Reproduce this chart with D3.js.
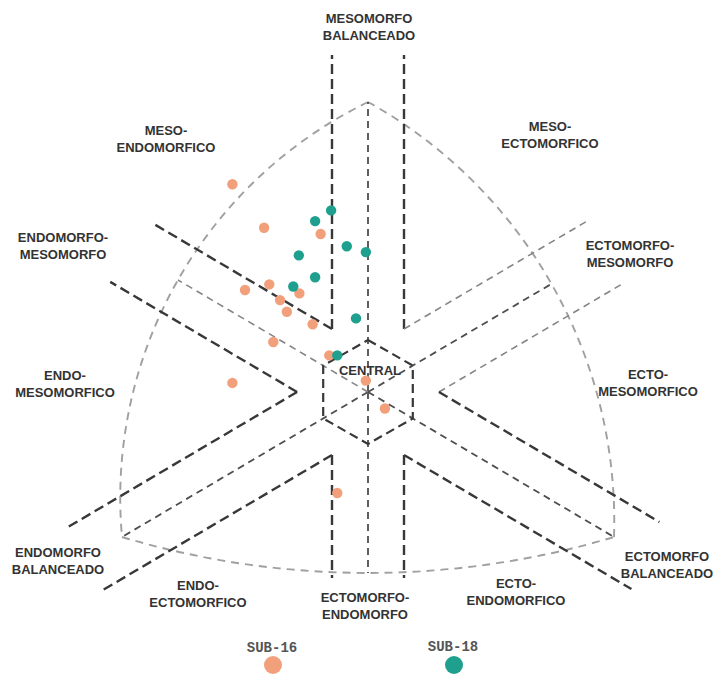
<!DOCTYPE html>
<html><head><meta charset="utf-8">
<script src="https://cdn.jsdelivr.net/npm/d3@7"></script>
<style>body{margin:0;background:#fff}</style>
</head><body><svg id="c" width="714" height="677"></svg>
<script>
// ---------- DATA (somatochart coordinates: X = ecto - endo, Y = 2*meso - (endo+ecto)) ----------
const groups = ["SUB-16", "SUB-18"];
const sub16X = [-4.41, -3.38, -1.54, -3.21, -4.00, -2.23, -2.86, -2.64, -1.80, -3.08, -1.26, -4.41, -0.07, 0.55, -1.00];
const sub16Y = [11.46, 9.06, 8.72, 5.94, 5.63, 5.44, 5.07, 4.43, 3.74, 2.76, 2.02, 0.50, 0.63, -0.91, -5.57];
const sub18X = [-1.20, -1.72, -0.69, -0.07, -2.25, -1.72, -2.43, -0.39, -1.00];
const sub18Y = [10.02, 9.43, 8.04, 7.72, 7.54, 6.33, 5.82, 4.06, 2.02];
const regionNames = [
  ["MESOMORFO", "BALANCEADO"], ["MESO-", "ENDOMORFICO"], ["MESO-", "ECTOMORFICO"],
  ["ENDOMORFO-", "MESOMORFO"], ["ECTOMORFO-", "MESOMORFO"], ["ENDO-", "MESOMORFICO"],
  ["ECTO-", "MESOMORFICO"], ["ENDOMORFO", "BALANCEADO"], ["ECTOMORFO", "BALANCEADO"],
  ["ENDO-", "ECTOMORFICO"], ["ECTOMORFO-", "ENDOMORFO"], ["ECTO-", "ENDOMORFICO"], ["CENTRAL"]
];

// ---------- LAYOUT ----------
const labelPos = [[369,18],[166,130],[550,126],[63,237],[630,245],[65,375],[648,374],
                  [58,552],[667,556],[198,585],[365,597],[516,583],[370,370]];
const colors = {"SUB-16": "#F2A07B", "SUB-18": "#1FA08E"};
const svg = d3.select("#c");
const x = d3.scaleLinear().domain([-8, 8]).range([122, 614]);
const y = d3.scaleLinear().domain([-8, 16]).range([537, 102]);
const C = [x(0), y(0)];
const unit = v => { const l = Math.hypot(v[0], v[1]); return [v[0]/l, v[1]/l]; };
const neg = v => [-v[0], -v[1]];
const dot = (a, b) => a[0]*b[0] + a[1]*b[1];
const cross = (a, b) => a[0]*b[1] - a[1]*b[0];
const rMeso = unit([x(0)-C[0], y(1)-C[1]]);
const rEndo = unit([x(-1)-C[0], y(-1)-C[1]]);
const rEcto = unit([x(1)-C[0], y(-1)-C[1]]);
const rays = [rMeso, neg(rEndo), rEcto, neg(rMeso), rEndo, neg(rEcto)];

const T = [x(0), y(16)], BL = [x(-8), y(-8)], BR = [x(8), y(-8)];
const Rl = 440, Rb = 860, Rr = 480;
function arcCenter(p1, p2, R) {
  const m = [(p1[0]+p2[0])/2, (p1[1]+p2[1])/2];
  const c = Math.hypot(p2[0]-p1[0], p2[1]-p1[1]);
  let n = [-(p2[1]-p1[1])/c, (p2[0]-p1[0])/c];
  if (dot([C[0]-m[0], C[1]-m[1]], n) < 0) n = neg(n);
  const h = Math.sqrt(R*R - c*c/4);
  return [m[0]+n[0]*h, m[1]+n[1]*h];
}
function rayCircle(u, O, R) {
  const w = [C[0]-O[0], C[1]-O[1]];
  const b = dot(u, w), c = dot(w, w) - R*R;
  const t = -b + Math.sqrt(b*b - c);
  return [C[0]+u[0]*t, C[1]+u[1]*t];
}
const styles = {
  dark:   {stroke: "#383838", w: 2.4, dash: "10,5"},
  medium: {stroke: "#4e4e4e", w: 1.8, dash: "7,5"},
  light:  {stroke: "#858585", w: 1.6, dash: "7,5"},
  curve:  {stroke: "#a0a0a0", w: 1.9, dash: "8,6"}
};
function seg(p, q, s) {
  const st = styles[s];
  svg.append("line").attr("x1", p[0]).attr("y1", p[1]).attr("x2", q[0]).attr("y2", q[1])
    .attr("stroke", st.stroke).attr("stroke-width", st.w).attr("stroke-dasharray", st.dash)
    .attr("fill", "none");
}

// boundary curves
const curveG = svg.append("g").attr("fill", "none").attr("stroke", styles.curve.stroke)
  .attr("stroke-width", styles.curve.w).attr("stroke-dasharray", styles.curve.dash);
curveG.append("path").attr("d", `M${T} A${Rl} ${Rl} 0 0 0 ${BL}`);
curveG.append("path").attr("d", `M${BL} A${Rb} ${Rb} 0 0 0 ${BR}`);
curveG.append("path").attr("d", `M${BR} A${Rr} ${Rr} 0 0 0 ${T}`);

// central axes
const Ol = arcCenter(T, BL, Rl), Ob = arcCenter(BL, BR, Rb), Or = arcCenter(BR, T, Rr);
seg(C, T, "medium");
seg(C, rayCircle(rays[3], Ob, Rb), "medium");
seg(C, rayCircle(rays[1], Or, Rr), "medium");
seg(C, BR, "medium");
seg(C, BL, "medium");
seg(C, rayCircle(rays[5], Ol, Rl), "light");

// band lines
const d = 36;
const wedgeV = rays.map((a, i) => {
  const b = rays[(i+1) % 6];
  const al = d / Math.abs(cross(a, b));
  return [C[0] + al*(a[0]+b[0]), C[1] + al*(a[1]+b[1])];
});
const bands = [
  {ray: 0, w: [0, 5], P: [337, 337], s: "dark"},
  {ray: 1, w: [0, 1], P: [277, 277], s: "light"},
  {ray: 2, w: [1, 2], P: [317, 327], s: "dark"},
  {ray: 3, w: [2, 3], P: [186, 186], s: "dark"},
  {ray: 4, w: [3, 4], P: [329, 329], s: "dark"},
  {ray: 5, w: [4, 5], P: [278, 271], s: "dark"}
];
bands.forEach(b => {
  const r = rays[b.ray];
  b.w.forEach((wi, k) => {
    const V = wedgeV[wi];
    const t = b.P[k] - dot([V[0]-C[0], V[1]-C[1]], r);
    seg(V, [V[0]+r[0]*t, V[1]+r[1]*t], b.s);
  });
});

// central hexagon
const hexR = 52;
const hex = rays.map(r => [C[0]+r[0]*hexR, C[1]+r[1]*hexR]);
svg.append("path").attr("d", d3.line()(hex) + "Z").attr("fill", "none")
  .attr("stroke", styles.dark.stroke).attr("stroke-width", 2.2).attr("stroke-dasharray", "9,5");

// region labels
regionNames.forEach((lines, i) => {
  const t = svg.append("text").attr("text-anchor", "middle")
    .attr("font-family", "Liberation Sans, Arial, sans-serif").attr("font-weight", "bold")
    .attr("font-size", 13).attr("fill", "#333");
  lines.forEach((ln, j) => t.append("tspan").attr("x", labelPos[i][0])
    .attr("y", labelPos[i][1] + 4.5 + j*17).text(ln));
});

// points
const pts16 = sub16X.map((v, i) => ({X: v, Y: sub16Y[i], g: groups[0]}));
const pts18 = sub18X.map((v, i) => ({X: v, Y: sub18Y[i], g: groups[1]}));
svg.append("g").selectAll("circle").data(pts16.concat(pts18)).join("circle")
  .attr("cx", p => x(p.X)).attr("cy", p => y(p.Y)).attr("r", 5.2)
  .attr("fill", p => colors[p.g]);

// legend
const legPos = [[272, 647], [453, 646]];
groups.forEach((g, i) => {
  svg.append("text").attr("x", legPos[i][0]).attr("y", legPos[i][1] + 5)
    .attr("text-anchor", "middle").attr("font-family", "Liberation Mono, Courier New, monospace")
    .attr("font-weight", "bold").attr("font-size", 14).attr("fill", "#555").text(g);
  svg.append("circle").attr("cx", legPos[i][0] + 1).attr("cy", 665).attr("r", 9)
    .attr("fill", colors[g]);
});
</script></body></html>
